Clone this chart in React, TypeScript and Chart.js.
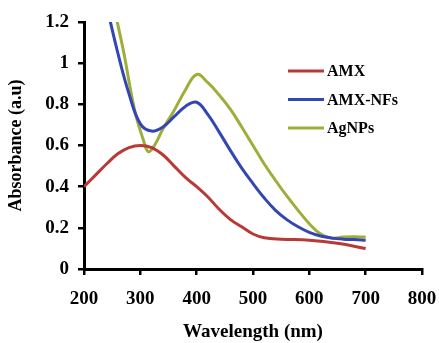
import React, { useEffect, useRef } from 'react';
import { Chart, registerables } from 'chart.js';

Chart.register(...registerables);

const seriesLabels = ['AMX', 'AMX-NFs', 'AgNPs'];
const seriesColors = ['#B83A36', '#3346B2', '#9DAF3A'];

const amxWavelength = [200, 220, 240, 260, 280, 300, 320, 340, 360, 380, 400, 420, 440, 460, 480, 500, 520, 550, 600, 650, 700];
const amxAbsorbance = [0.40, 0.455, 0.51, 0.56, 0.59, 0.60, 0.59, 0.555, 0.50, 0.445, 0.40, 0.35, 0.29, 0.24, 0.205, 0.17, 0.152, 0.145, 0.14, 0.125, 0.10];

const nfsWavelength = [240, 260, 280, 300, 320, 340, 360, 380, 400, 420, 440, 460, 480, 500, 520, 540, 560, 580, 600, 620, 640, 660, 680, 700];
const nfsAbsorbance = [1.28, 1.05, 0.85, 0.705, 0.67, 0.69, 0.74, 0.79, 0.81, 0.75, 0.665, 0.575, 0.49, 0.415, 0.345, 0.285, 0.24, 0.205, 0.178, 0.16, 0.15, 0.145, 0.143, 0.14];

const agWavelength = [255, 270, 290, 305, 314, 325, 340, 360, 380, 400, 420, 440, 460, 480, 500, 520, 540, 560, 580, 600, 620, 640, 660, 680, 700];
const agAbsorbance = [1.25, 1.06, 0.77, 0.63, 0.57, 0.60, 0.68, 0.77, 0.87, 0.945, 0.905, 0.845, 0.775, 0.69, 0.60, 0.51, 0.43, 0.355, 0.285, 0.22, 0.17, 0.15, 0.155, 0.157, 0.155];

const xTickValues = [200, 300, 400, 500, 600, 700, 800];
const xTickLabels = ['200', '300', '400', '500', '600', '700', '800'];
const yTickValues = [0, 0.2, 0.4, 0.6, 0.8, 1, 1.2];
const yTickLabels = ['0', '0.2', '0.4', '0.6', '0.8', '1', '1.2'];

const xTitle = 'Wavelength (nm)';
const yTitle = 'Absorbance (a.u)';

const FONT = '"Liberation Serif", "Times New Roman", serif';

const insideLegend = {
  id: 'insideLegend',
  afterDatasetsDraw(chart: any) {
    const { ctx, chartArea } = chart;
    ctx.save();
    chart.data.datasets.forEach((ds: any, i: number) => {
      const y = chartArea.top + 49 + i * 28.5;
      const x0 = chartArea.left + 204;
      ctx.strokeStyle = ds.borderColor;
      ctx.lineWidth = 3;
      ctx.beginPath();
      ctx.moveTo(x0, y);
      ctx.lineTo(x0 + 36, y);
      ctx.stroke();
      ctx.fillStyle = '#000';
      ctx.font = `bold 16px ${FONT}`;
      ctx.textBaseline = 'middle';
      ctx.textAlign = 'left';
      ctx.fillText(ds.label, x0 + 39, y + 1);
    });
    ctx.restore();
  },
};

function toPoints(xs: number[], ys: number[]) {
  return xs.map((x, i) => ({ x, y: ys[i] }));
}

export default function App() {
  const canvasRef = useRef<HTMLCanvasElement | null>(null);

  useEffect(() => {
    document.body.style.margin = '0';
    const canvas = canvasRef.current;
    if (!canvas) return;
    const seriesData = [
      toPoints(amxWavelength, amxAbsorbance),
      toPoints(nfsWavelength, nfsAbsorbance),
      toPoints(agWavelength, agAbsorbance),
    ];
    const tickFont = { family: FONT, size: 19, weight: 'bold' as const };
    const chart = new Chart(canvas, {
      type: 'line',
      data: {
        datasets: seriesData.map((d, i) => ({
          label: seriesLabels[i],
          data: d,
          borderColor: seriesColors[i],
          backgroundColor: seriesColors[i],
          borderWidth: 3,
          pointRadius: 0,
          fill: false,
          tension: 0.4,
        })),
      },
      options: {
        animation: false,
        responsive: true,
        maintainAspectRatio: false,
        layout: { padding: { top: 22, right: 17, bottom: 0, left: 0 } },
        plugins: { legend: { display: false }, tooltip: { enabled: false } },
        scales: {
          x: {
            type: 'linear',
            min: 200,
            max: 800,
            afterBuildTicks: (s: any) => {
              s.ticks = xTickValues.map((v) => ({ value: v }));
            },
            afterFit: (s: any) => {
              s.height = 74;
              s.paddingRight = 10;
              s.paddingLeft = 0;
            },
            ticks: {
              color: '#000',
              font: tickFont,
              padding: 13,
              maxRotation: 0,
              autoSkip: false,
              callback: (v: any) => {
                const idx = xTickValues.indexOf(Number(v));
                return idx >= 0 ? xTickLabels[idx] : '';
              },
            },
            grid: { drawOnChartArea: false, drawTicks: true, tickLength: 6, color: '#000', lineWidth: 2.5 },
            border: { color: '#000', width: 3 },
            title: { display: true, text: xTitle, color: '#000', font: { family: FONT, size: 19, weight: 'bold' }, padding: 0 },
          },
          y: {
            type: 'linear',
            min: 0,
            max: 1.2,
            afterBuildTicks: (s: any) => {
              s.ticks = yTickValues.map((v) => ({ value: v }));
            },
            afterFit: (s: any) => {
              s.width = 84;
            },
            ticks: {
              color: '#000',
              font: tickFont,
              padding: 9,
              autoSkip: false,
              callback: (v: any) => {
                const idx = yTickValues.findIndex((t) => Math.abs(t - Number(v)) < 1e-6);
                return idx >= 0 ? yTickLabels[idx] : '';
              },
            },
            grid: { drawOnChartArea: false, drawTicks: true, tickLength: 6, color: '#000', lineWidth: 2.5 },
            border: { color: '#000', width: 3 },
            title: { display: true, text: yTitle, color: '#000', font: { family: FONT, size: 18, weight: 'bold' }, padding: { top: 6, bottom: 0 } },
          },
        },
      },
      plugins: [insideLegend],
    });
    return () => chart.destroy();
  }, []);

  return (
    <div style={{ width: 439, height: 343, position: 'relative' }}>
      <canvas ref={canvasRef} />
    </div>
  );
}
